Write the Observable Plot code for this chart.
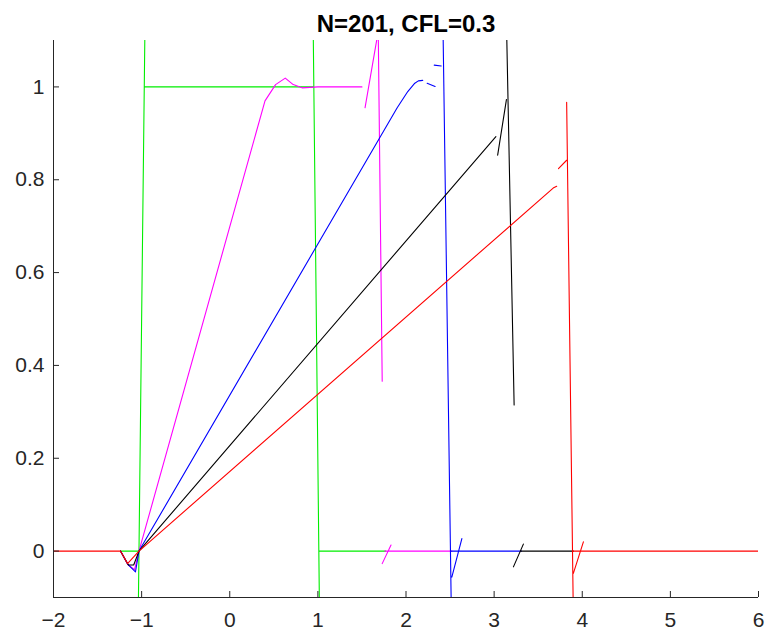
<!DOCTYPE html>
<html><head><meta charset="utf-8">
<script src="https://cdn.jsdelivr.net/npm/d3@7"></script>
<script src="https://cdn.jsdelivr.net/npm/@observablehq/plot@0.6"></script>
<style>body{margin:0;background:#fff;}</style>
</head><body><div id="chart"></div>
<script>
const title = "N=201, CFL=0.3";
const xTicks = [-2, -1, 0, 1, 2, 3, 4, 5, 6];
const yTicks = [0, 0.2, 0.4, 0.6, 0.8, 1];
const yTickLabels = ["0", "0.2", "0.4", "0.6", "0.8", "1"];
const xDomain = [-2, 6];
const yDomain = [-0.1, 1.1];

const seriesColors = ["#00ee00", "#ff00ff", "#0000ff", "#000000", "#ff0000"];

// visible parts of each curve (NaN = break)
const greenX = [-1.24, -1.03, -1.045, -0.955, -0.97, 0.954, 0.94, 1.025, 1.011, 1.77];
const greenY = [0, 0, -0.25, 1.25, 1, 1, 1.25, -0.25, 0, 0];

const magentaX = [-1.24, -1.15, -1.08, -1.03, 0.40, 0.52, 0.63, 0.72, 0.82, 1.0, 1.50, NaN, 1.535, 1.685, 1.73, NaN, 1.73, 1.83, NaN, 1.76, 2.52];
const magentaY = [0, -0.03, -0.04, 0, 0.97, 1.005, 1.019, 1.005, 0.998, 1.0, 1.0, NaN, 0.955, 1.12, 0.366, NaN, -0.027, 0.013, NaN, 0, 0];

const blueX = [-1.24, -1.16, -1.07, -1.03, 1.90, 2.02, 2.10, 2.14, 2.19, NaN, 2.24, 2.33, NaN, 2.32, 2.40, NaN, 2.407, 2.527, NaN, 2.52, 2.634, NaN, 2.515, 3.31];
const blueY = [0, -0.028, -0.045, 0, 0.955, 0.99, 1.008, 1.013, 1.014, NaN, 1.008, 1.001, NaN, 1.047, 1.045, NaN, 1.3, -0.3, NaN, -0.056, 0.027, NaN, 0, 0];

const blackX = [-1.24, -1.15, -1.09, -1.03, 3.02, NaN, 3.04, 3.14, NaN, 3.123, 3.227, NaN, 3.219, 3.332, NaN, 3.3, 3.9];
const blackY = [0, -0.03, -0.03, 0, 0.893, NaN, 0.853, 0.973, NaN, 1.3, 0.315, NaN, -0.034, 0.015, NaN, 0, 0];

const redX = [-2, -1.24, -1.16, -1.03, 3.67, 3.71, NaN, 3.73, 3.823, NaN, 3.823, 3.91, NaN, 3.899, 4.013, NaN, 3.89, 6];
const redY = [0, 0, -0.027, 0, 0.782, 0.786, NaN, 0.824, 0.842, NaN, 0.967, -0.3, NaN, -0.048, 0.02, NaN, 0, 0];

const seriesX = [greenX, magentaX, blueX, blackX, redX];
const seriesY = [greenY, magentaY, blueY, blackY, redY];

const W = 767, H = 637, mL = 53, mR = 9, mT = 40, mB = 40;
const tickPx = 6;
const xTickLen = tickPx * (xDomain[1] - xDomain[0]) / (W - mL - mR);
const yTickLen = tickPx * (yDomain[1] - yDomain[0]) / (H - mT - mB);

const axisColor = "#262626";
const rowsOf = (xs, ys) => xs.map((x, i) => ({x, y: ys[i]}));

const lineMarks = seriesX.map((xs, k) =>
  Plot.line(rowsOf(xs, seriesY[k]), {x: "x", y: "y", stroke: seriesColors[k], strokeWidth: 1.1, clip: true})
);

const plot = Plot.plot({
  width: W, height: H,
  marginLeft: mL, marginRight: mR, marginTop: mT, marginBottom: mB,
  x: {domain: xDomain, label: null},
  y: {domain: yDomain, label: null},
  style: {fontFamily: "'Liberation Sans', Arial, sans-serif", background: "#fff", color: axisColor},
  marks: [
    ...lineMarks,
    Plot.ruleX([xDomain[0]], {stroke: axisColor}),
    Plot.ruleY([yDomain[0]], {stroke: axisColor}),
    Plot.ruleX(xTicks, {x: d => d, y1: yDomain[0], y2: yDomain[0] + yTickLen, stroke: axisColor}),
    Plot.ruleY(yTicks, {y: d => d, x1: xDomain[0], x2: xDomain[0] + xTickLen, stroke: axisColor}),
    Plot.axisX(xTicks, {tickSize: 0, tickPadding: 15, fontSize: 21, fill: axisColor}),
    Plot.axisY(yTicks, {tickSize: 0, tickPadding: 9, fontSize: 21, fill: axisColor, tickFormat: d => yTickLabels[yTicks.indexOf(d)]}),
    Plot.text([title], {frameAnchor: "top", dy: -26, fontSize: 24, fontWeight: "bold", fill: "#000"})
  ]
});
document.getElementById("chart").appendChild(plot);
</script>
</body></html>
